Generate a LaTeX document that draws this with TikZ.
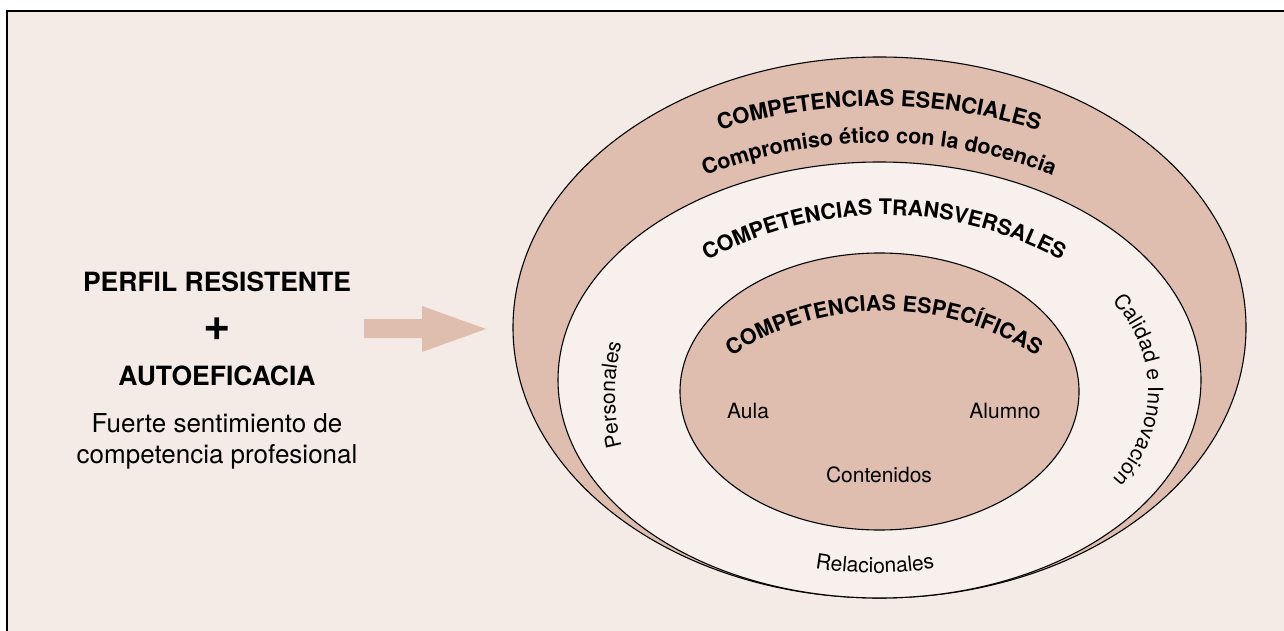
\documentclass[tikz,border=0pt]{standalone}
\usepackage{fontspec}
\setmainfont{TeX Gyre Heros}
\usetikzlibrary{decorations.text}
\definecolor{bg}{HTML}{F4EBE6}
\definecolor{ring}{HTML}{F7F0EC}
\definecolor{rose}{HTML}{DFBEB0}
\newcommand{\fsz}[1]{\fontsize{#1}{#1}\selectfont}
\begin{document}
\begin{tikzpicture}[x=1pt,y=1pt,
  ellline/.style={draw=black, line width=1.1pt},
  lefttxt/.style={anchor=base, inner sep=0pt, font=\fsz{26}},
  leftbold/.style={anchor=base, inner sep=0pt, font=\fsz{26.5}\bfseries},
  innertxt/.style={anchor=base, inner sep=0pt, font=\fsz{21}},
  curved/.style={decorate, decoration={text along path, text align=center, text={#1}}}]
\useasboundingbox (0,0) rectangle (1284,630);
\fill[white] (0,0) rectangle (1284,630);
\draw[fill=bg, line width=1.6pt] (7,-20) rectangle (1300,619);
% rings
\filldraw[fill=rose, ellline] (879.5,302.5) ellipse [x radius=366.5, y radius=270.5];
\filldraw[fill=ring, ellline] (879.5,250) ellipse [x radius=321.5, y radius=218];
\filldraw[fill=rose, ellline] (879.5,238.5) ellipse [x radius=199.5, y radius=138.5];
% arrow
\fill[rose] (364,292) -- (422,292) -- (422,278) -- (486,301) -- (422,324) -- (422,311) -- (364,311) -- cycle;
% left texts
\node[leftbold] (perfil) at (217,338) {PERFIL RESISTENTE};
\node[inner sep=0pt, font=\fsz{47}\bfseries] (plus) at (217,301) {+};
\node[leftbold] (auto) at (217,245) {AUTOEFICACIA};
\node[lefttxt] (fuerte1) at (217,198) {Fuerte sentimiento de};
\node[lefttxt] (fuerte2) at (217,167) {competencia profesional};
% inner texts
\node[innertxt] (aula) at (748,212) {Aula};
\node[innertxt] (alumno) at (1005,212) {Alumno};
\node[innertxt] (contenidos) at (879,148) {Contenidos};
% curved texts
\path[curved={|\fsz{22}\bfseries|COMPETENCIAS ESENCIALES}] (879,-10) ++(120:534) arc[start angle=120, end angle=60, radius=534];
\path[curved={|\fsz{21.5}\bfseries|Compromiso ético con la docencia}] (879,9) ++(115:478) arc[start angle=115, end angle=65, radius=478];
\path[curved={|\fsz{21.5}\bfseries|COMPETENCIAS TRANSVERSALES}] (884,50) ++(130:365) arc[start angle=130, end angle=50, radius=365];
\path[curved={|\fsz{21.5}\bfseries|COMPETENCIAS ESPECÍFICAS}] (884,39) ++(135:280) arc[start angle=135, end angle=45, radius=280];
\path[curved={|\fsz{21}|Personales}] (820,235) ++(200:205) arc[start angle=200, end angle=160, radius=205];
\path[curved={|\fsz{21}|Calidad e Innovación}] (1020,240) ++(55:128) arc[start angle=55, end angle=-55, radius=128];
\path[curved={|\fsz{21}|Relacionales}] (875,417) ++(255:360) arc[start angle=255, end angle=285, radius=360];
\end{tikzpicture}
\end{document}
